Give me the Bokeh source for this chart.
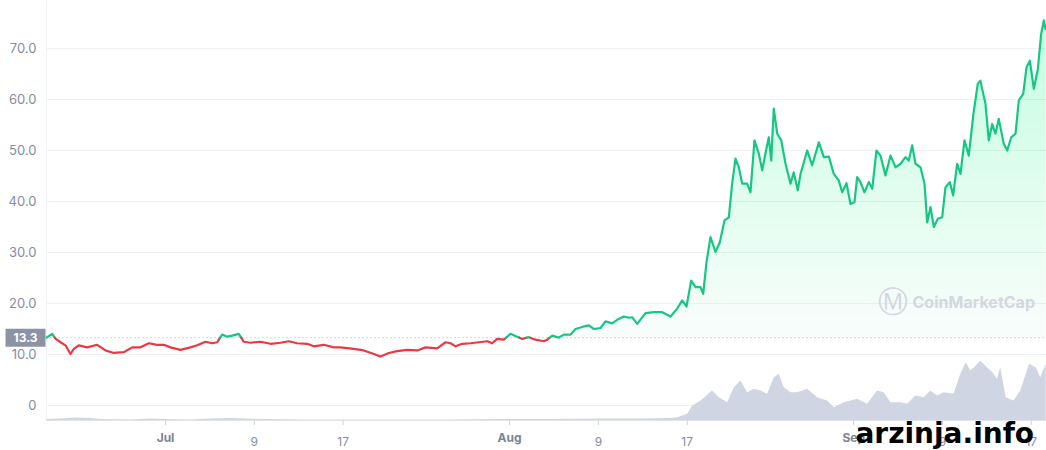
import numpy as np
from bokeh.plotting import figure
from bokeh.models import Range1d, FixedTicker, Label
from bokeh.embed import file_html
from bokeh.resources import INLINE

# ---------------- data (x = days since 1 Jul, negative = June) ----------------
BASE_PRICE = 13.3

price_day = [-10.72, -10.21, -9.91, -9.46, -9.01, -8.56, -8.26, -7.81, -7.05, -6.15,
             -5.41, -4.66, -3.76, -3.0, -2.25, -1.5, -0.75, -0.15, 0.45, 1.35,
             2.25, 2.86, 3.6, 4.21, 4.66, 5.11, 5.56, 6.01, 6.6, 7.05,
             7.66, 8.56, 9.46, 10.36, 11.11, 11.86, 12.77, 13.36, 14.26, 15.16,
             15.77, 16.96, 17.86, 18.77, 19.37, 20.12, 20.87, 21.77, 22.68, 23.42,
             24.48, 25.23, 25.68, 26.13, 26.73, 27.48, 28.23, 28.98, 29.43, 29.88,
             30.48, 31.08, 31.68, 32.14, 32.73, 33.33, 34.08, 34.39, 34.84, 35.43,
             35.88, 36.49, 36.94, 37.68, 38.14, 38.59, 39.19, 39.64, 40.24, 40.69,
             41.29, 41.74,
             42.04, 42.5, 43.24, 43.99, 44.75, 45.5, 46.1, 46.55, 46.94, 47.36,
             47.75, 48.2, 48.44, 48.74, 49.1, 49.55, 49.94, 50.36, 50.75, 51.05,
             51.35, 51.65, 51.95, 52.4, 52.7, 53.06, 53.45, 53.76, 54.05, 54.35,
             54.57, 54.8, 55.11, 55.47, 55.86, 56.31, 56.6, 56.96,
             57.21, 57.81, 58.26, 58.86, 59.31, 59.76, 60.21, 60.66, 60.96, 61.35,
             61.71, 62.07, 62.31, 62.61, 62.97, 63.36, 63.67, 64.05, 64.41, 64.86,
             65.32, 65.77, 66.22, 66.67, 66.96, 67.27, 67.57, 68.02, 68.38, 68.62,
             68.92, 69.22, 69.58, 69.97, 70.27, 70.66, 70.96, 71.32, 71.62, 71.98,
             72.37, 72.77, 73.18, 73.42, 73.67, 73.87, 74.17, 74.48, 74.77, 75.07,
             75.52, 75.83, 76.19, 76.58, 76.87, 77.27, 77.57, 77.87, 78.23, 78.59,
             78.89, 79.13, 79.28]

price = [13.3, 14.05, 13.1, 12.4, 11.8, 10.1, 11.1, 11.8, 11.4, 11.9,
         10.8, 10.3, 10.45, 11.4, 11.4, 12.2, 11.9, 11.9, 11.4, 10.9,
         11.4, 11.8, 12.5, 12.2, 12.4, 13.9, 13.5, 13.7, 14.05, 12.5,
         12.3, 12.5, 12.1, 12.3, 12.6, 12.2, 12.1, 11.6, 11.9, 11.4,
         11.4, 11.1, 10.8, 10.1, 9.6, 10.3, 10.65, 10.9, 10.8, 11.4,
         11.2, 12.4, 12.2, 11.6, 12.1, 12.2, 12.4, 12.6, 12.2, 13.05,
         12.9, 14.05, 13.5, 13.05, 13.4, 12.9, 12.6, 12.9, 13.7, 13.3,
         13.9, 13.9, 15.0, 15.5, 15.7, 15.0, 15.2, 16.5, 16.1, 16.8,
         17.45, 17.2,
         17.3, 16.0, 18.1, 18.3, 18.3, 17.45, 19.0, 20.6, 19.4, 24.5,
         23.2, 23.2, 21.9, 28.1, 33.0, 30.1, 32.0, 36.3, 36.9, 43.5,
         48.4, 46.7, 43.5, 43.5, 41.8, 52.0, 49.4, 46.1, 49.4, 52.6,
         48.0, 58.2, 53.3, 52.0, 47.4, 43.5, 45.7, 42.2,
         45.4, 50.0, 47.1, 51.6, 48.7, 48.8, 45.4, 44.1, 41.8, 43.6,
         39.5, 39.9, 44.8, 43.8, 41.8, 43.8, 42.5, 50.0, 49.0, 45.1,
         49.0, 46.7, 47.4, 48.7, 48.0, 51.0, 47.4, 46.7, 43.5, 35.9,
         38.9, 35.0, 36.6, 36.9, 42.8, 43.8, 41.2, 47.4, 45.4, 52.0,
         49.0, 56.9, 63.1, 63.7, 61.1, 59.2, 52.0, 55.2, 53.3, 56.2,
         51.3, 50.0, 52.6, 53.3, 59.8, 61.1, 66.3, 67.6, 62.1, 66.0,
         72.9, 75.5, 73.8]

vol_day = [-10.72, -9.46, -8.11, -6.76, -5.86, -3.15, -1.35, 0, 2.25, 4.05,
           5.86, 7.21, 9.01, 12.16, 16.67, 21.17, 25.68, 30.18, 34.68, 39.19,
           42.79, 45.5, 46.1, 47.0, 47.45, 48.2, 49.25, 49.85, 50.6, 51.2,
           51.8, 52.4, 53.0, 53.6, 54.2, 54.8, 55.25, 55.7, 56.3, 56.9,
           57.8, 58.7, 59.6, 60.2, 61.1, 62.3, 63.2, 64.1, 64.7, 65.3,
           66.2, 66.8, 67.57, 68.3, 68.9, 69.5, 70.1, 71.0, 71.6, 72.1,
           72.5, 73.0, 73.4, 74.0, 74.5, 74.9, 75.2, 75.7, 76.4, 77.0,
           77.8, 78.4, 78.8, 79.3]

volume = [1.5, 2, 3, 2.5, 1.5, 1, 2, 1.5, 1, 2,
          2.5, 2, 1.5, 1, 1, 1, 1, 1.5, 1.5, 2,
          2, 2.5, 3.3, 6.7, 15, 20, 30, 23.3, 18.3, 33.3,
          40, 28.3, 31.7, 30, 26.7, 43.3, 46.7, 33.3, 28.3, 28.3,
          31.7, 23.3, 20, 13.3, 18.3, 21.7, 16.7, 30, 28.3, 18.3,
          18.3, 16.7, 25, 23.3, 30, 25, 28.3, 26.7, 46.7, 58.3,
          50, 55, 60, 53.3, 48.3, 41.7, 53.3, 23.3, 20, 30,
          56.7, 53.3, 43.3, 56.7]

tick_days = [0, 8, 16, 31, 39, 47, 62, 70, 78]
tick_labels = ["Jul", "9", "17", "Aug", "9", "17", "Sep", "9", "17"]
month_labels = {"Jul", "Aug", "Sep"}
y_ticks = [0, 10, 20, 30, 40, 50, 60, 70]
y_labels = ["0", "10.0", "20.0", "30.0", "40.0", "50.0", "60.0", "70.0"]

# ---------------- styling constants ----------------
GREEN = "#16c784"
RED = "#ea3943"
LABEL_GREY = "#858ca2"
MONTH_GREY = "#7c8498"
GRID = "#eff2f5"
X_LEFT, X_RIGHT = -10.72, 79.37       # extent of the price pane (days)
Y_AXIS_LINE = -2.94                   # bottom axis line (price units)
TICK_LABEL_Y = -6.27                  # centre line of the x tick labels (price units)

p = figure(width=1046, height=450, output_backend="svg", toolbar_location=None,
           x_range=Range1d(-14.865, 79.369), y_range=Range1d(-8.824, 79.41),
           min_border_left=0, min_border_right=0, min_border_top=0, min_border_bottom=0)
p.outline_line_color = None
p.background_fill_color = "white"
p.xgrid.visible = False
p.extra_y_ranges = {"vol": Range1d(-30, 420)}

# horizontal grid limited to the price pane
try:
    p.ygrid.cross_bounds = (X_LEFT, X_RIGHT)
    p.ygrid.grid_line_color = GRID
except Exception:
    p.ygrid.visible = False
    p.multi_line(xs=[[X_LEFT, X_RIGHT] for _ in y_ticks], ys=[[t, t] for t in y_ticks],
                 line_color=GRID, line_width=1)

# faint left border of the pane
p.line(x=[X_LEFT, X_LEFT], y=[Y_AXIS_LINE, 79.41], line_color=GRID, line_width=1)

# volume area
p.varea(x=vol_day, y1=0, y2=volume, fill_color="#cfd5e2", fill_alpha=1.0, y_range_name="vol")

# vertical gradient fill above base price (stacked translucent layers)
x = np.array(price_day, dtype=float)
y = np.array(price, dtype=float)
p.varea(x=x, y1=np.full_like(y, BASE_PRICE), y2=np.maximum(y, BASE_PRICE),
        fill_color=GREEN, fill_alpha=0.03)
for lv in np.linspace(BASE_PRICE, 79.0, 29)[1:]:
    p.varea(x=x, y1=np.full_like(y, lv), y2=np.maximum(y, lv),
            fill_color=GREEN, fill_alpha=0.0095)

# dotted base-price line
p.line(x=[X_LEFT, X_RIGHT], y=[BASE_PRICE, BASE_PRICE], line_color="#a6b0c3",
       line_dash="1 3", line_width=1)

# bottom axis line and ticks
p.line(x=[X_LEFT, X_RIGHT], y=[Y_AXIS_LINE, Y_AXIS_LINE], line_color="#e1e4ea", line_width=1)
p.segment(x0=tick_days, y0=[Y_AXIS_LINE] * len(tick_days),
          x1=tick_days, y1=[Y_AXIS_LINE - 0.9] * len(tick_days),
          line_color="#cdd2dc", line_width=1)

# coloured price line split at base-price crossings
runs_x, runs_y, runs_c = [], [], []
cx, cy = [x[0]], [y[0]]
cur_up = y[1] >= BASE_PRICE
for i in range(1, len(x)):
    up = y[i] >= BASE_PRICE
    if up != cur_up:
        t = (BASE_PRICE - y[i - 1]) / (y[i] - y[i - 1])
        xc = x[i - 1] + t * (x[i] - x[i - 1])
        cx.append(xc); cy.append(BASE_PRICE)
        runs_x.append(cx); runs_y.append(cy); runs_c.append(GREEN if cur_up else RED)
        cx, cy = [xc], [BASE_PRICE]
        cur_up = up
    cx.append(x[i]); cy.append(y[i])
runs_x.append(cx); runs_y.append(cy); runs_c.append(GREEN if cur_up else RED)
p.multi_line(xs=runs_x, ys=runs_y, line_color=runs_c, line_width=2.2,
             line_join="round", line_cap="round")

# axes (labels drawn inward so that the pane can reach the canvas edges)
p.xaxis.ticker = FixedTicker(ticks=tick_days)
p.xaxis.major_label_overrides = {d: ("" if lab in month_labels else lab)
                                 for d, lab in zip(tick_days, tick_labels)}
p.xaxis.axis_line_color = None
p.xaxis.major_tick_line_color = None
p.xaxis.minor_tick_line_color = None
p.xaxis.major_label_standoff = -20
p.xaxis.major_label_text_color = LABEL_GREY
p.xaxis.major_label_text_font = "Inter"
p.xaxis.major_label_text_font_size = "12px"

# month names are bold in the reference
for d, lab in zip(tick_days, tick_labels):
    if lab in month_labels:
        p.add_layout(Label(x=d, y=TICK_LABEL_Y, text=lab, text_align="center",
                           text_baseline="middle", text_color=MONTH_GREY, text_font="Inter",
                           text_font_size="12px", text_font_style="bold"))

p.yaxis.ticker = FixedTicker(ticks=y_ticks)
p.yaxis.major_label_overrides = {t: lab for t, lab in zip(y_ticks, y_labels)}
p.yaxis.axis_line_color = None
p.yaxis.major_tick_line_color = None
p.yaxis.minor_tick_line_color = None
p.yaxis.major_label_standoff = -42
p.yaxis.major_label_text_color = LABEL_GREY
p.yaxis.major_label_text_font = "Inter"
p.yaxis.major_label_text_font_size = "13px"

# current/base price badge
p.rect(x=[-12.61], y=[BASE_PRICE], width=40, height=18, width_units="screen",
       height_units="screen", fill_color="#8c93a5", line_color=None)
p.add_layout(Label(x=-12.61, y=BASE_PRICE, text="13.3", text_align="center",
                   text_baseline="middle", text_color="white", text_font="Inter",
                   text_font_size="12px", text_font_style="bold"))

# watermarks
p.add_layout(Label(x=65.5, y=20.4, text="Ⓜ", text_align="center", text_baseline="middle",
                   text_color="#d3d7df", text_font="DejaVu Sans", text_font_size="30px"))
p.add_layout(Label(x=67.3, y=20.2, text="CoinMarketCap", text_baseline="middle",
                   text_color="#d3d7df", text_font="Inter", text_font_size="16px",
                   text_font_style="bold"))
p.add_layout(Label(x=62.16, y=-5.5, text="arzinja.info", text_align="left",
                   text_baseline="middle", text_color="black", text_font="DejaVu Sans",
                   text_font_size="28px", text_font_style="bold"))

open("out.html", "w").write(file_html(p, INLINE))
